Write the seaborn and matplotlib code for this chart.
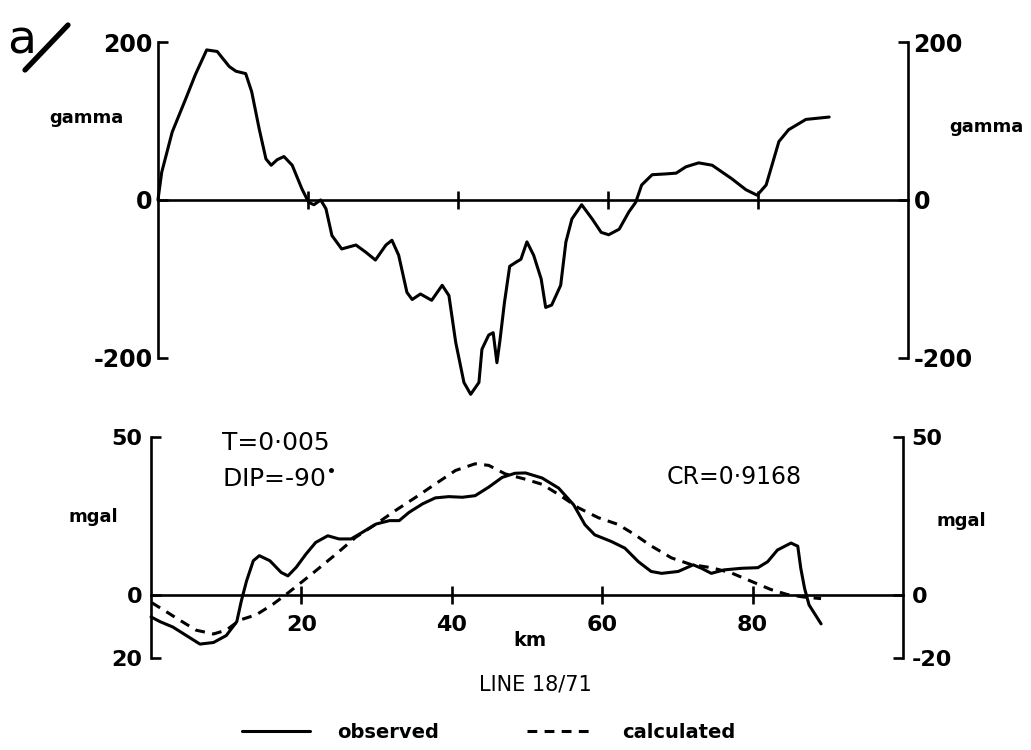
import matplotlib
matplotlib.use("Agg")
import matplotlib.pyplot as plt
import pandas as pd
import seaborn as sns
from matplotlib.lines import Line2D

# ---------------- data ----------------
mag_km = [0.0, 0.5, 1.9, 3.7, 5.0, 6.5, 7.9, 9.5, 10.4, 11.7, 12.5, 13.5, 14.4, 15.1,
          15.9, 16.8, 17.9, 19.2, 20.1, 20.8, 21.7, 22.4, 23.2, 24.5, 26.4, 27.7, 29.0,
          30.4, 31.2, 32.1, 33.2, 33.9, 35.0, 36.5, 37.9, 38.8, 39.7, 40.8, 41.7, 42.8,
          43.2, 44.1, 44.7, 45.2, 45.6, 46.2, 46.9, 47.7, 48.4, 49.2, 50.1, 51.1, 51.7,
          52.5, 53.7, 54.4, 55.2, 56.5, 57.9, 59.1, 60.1, 61.5, 62.8, 63.7, 64.5, 65.9,
          67.7, 69.1, 70.4, 72.1, 73.9, 76.5, 78.4, 79.9, 81.1, 82.8, 84.1, 86.4, 89.5]
mag_gamma = [0, 35, 86, 128, 159, 190, 188, 169, 163, 160, 137, 90, 52, 44,
             51, 55, 44, 14, -3, -6, 0, -11, -45, -62, -57, -66, -76,
             -57, -51, -70, -117, -126, -119, -127, -108, -121, -180, -231, -246, -231,
             -189, -171, -168, -206, -178, -130, -84, -79, -75, -53, -70, -100, -136,
             -133, -108, -53, -24, -6, -24, -41, -44, -37, -15, -3, 19, 32,
             33, 34, 42, 47, 44, 27, 13, 6, 19, 74, 89, 102, 105]

obs_km = [0.0, 1.2, 2.9, 4.7, 6.5, 8.3, 10.0, 11.4, 12.0, 12.7, 13.6, 14.4, 15.8, 17.3,
          18.2, 19.3, 20.6, 21.9, 23.5, 25.0, 26.6, 28.1, 29.9, 31.7, 33.0, 34.3, 36.1,
          37.8, 39.6, 41.4, 43.1, 44.9, 46.7, 48.4, 49.8, 52.0, 54.2, 56.2, 57.7, 59.0,
          61.2, 63.0, 64.8, 66.5, 67.9, 70.1, 72.1, 73.2, 74.5, 76.2, 78.5, 80.7, 82.0,
          83.3, 85.1, 86.0, 86.4, 86.9, 87.5, 89.1]
obs_mgal = [-7.0, -8.5, -10.2, -12.9, -15.6, -15.1, -12.9, -8.5, -2.0, 4.4, 10.8, 12.4,
            10.8, 7.1, 6.0, 8.7, 12.9, 16.6, 18.7, 17.7, 17.7, 19.8, 22.4, 23.5, 23.5,
            26.1, 28.8, 30.7, 31.1, 30.9, 31.4, 34.1, 37.2, 38.5, 38.6, 37.0, 33.8, 28.5,
            22.2, 19.0, 16.9, 14.8, 10.5, 7.4, 6.8, 7.4, 9.5, 8.4, 6.8, 7.9, 8.4, 8.6,
            10.5, 14.2, 16.4, 15.4, 8.4, 2.1, -3.2, -9.2]

calc_km = [0.1, 1.6, 3.8, 6.0, 8.3, 10.0, 11.8, 14.0, 16.2, 18.0, 19.7, 21.9, 24.6, 27.2,
           29.9, 32.5, 35.2, 37.8, 40.5, 43.1, 44.9, 47.1, 49.8, 52.0, 54.2, 56.8, 59.5,
           62.1, 64.3, 66.5, 69.2, 71.8, 74.5, 77.1, 79.8, 82.4, 84.6, 86.8, 89.1]
calc_mgal = [-2.5, -4.7, -8.0, -11.2, -12.4, -11.2, -8.0, -6.3, -3.0, 0.2, 3.4, 7.6, 12.9,
             18.2, 22.4, 26.7, 30.9, 35.1, 39.4, 41.5, 41.0, 38.3, 36.6, 35.0, 31.8, 27.6,
             24.4, 22.3, 19.1, 15.5, 11.7, 9.6, 8.6, 7.0, 4.3, 1.7, 0.1, -0.7, -1.2]

x_ticks = [20, 40, 60, 80]
x_ticklabels = ["20", "40", "60", "80"]
mag_yticks = [-200, 0, 200]
mag_ylabels_left = ["-200", "0", "200"]
mag_ylabels_right = ["-200", "0", "200"]
grav_yticks = [-20, 0, 50]
grav_ylabels_left = ["20", "0", "50"]
grav_ylabels_right = ["-20", "0", "50"]

# ---------------- style ----------------
sns.set_theme(style="white")
plt.rcParams["font.family"] = ["DejaVu Sans"]
plt.rcParams["text.color"] = "black"
plt.rcParams["axes.labelcolor"] = "black"
plt.rcParams["axes.edgecolor"] = "black"

fig = plt.figure(figsize=(10.31, 7.5), dpi=100)
ax1 = fig.add_axes([0.1532, 0.5227, 0.7274, 0.4213])
ax2 = fig.add_axes([0.1465, 0.1227, 0.7294, 0.2947])

LW_AX = 1.9
LW_CURVE = 2.2


def style_axes(ax, ylim, yticks, ylab_l, ylab_r, show_xlabels, lab_size, ypad):
    ax.set_facecolor("white")
    ax.set_xlim(0, 100)
    ax.set_ylim(*ylim)
    ax.spines["top"].set_visible(False)
    ax.spines["right"].set_visible(False)
    ax.spines["bottom"].set_position(("data", 0))
    for s in ("left", "bottom"):
        ax.spines[s].set_linewidth(LW_AX)
        ax.spines[s].set_color("black")
    ax.set_xticks(x_ticks)
    if show_xlabels:
        ax.set_xticklabels(x_ticklabels, fontsize=16, fontweight="bold")
    ax.tick_params(axis="x", direction="inout", length=13, width=LW_AX, color="black",
                   bottom=True, labelbottom=show_xlabels, pad=8, labelcolor="black")
    ax.set_yticks(yticks)
    ax.set_yticklabels(ylab_l, fontsize=lab_size, fontweight="bold")
    ax.tick_params(axis="y", direction="in", length=7, width=LW_AX, color="black",
                   left=True, pad=ypad, labelcolor="black")
    sec = ax.secondary_yaxis("right")
    sec.set_yticks(yticks)
    sec.set_yticklabels(ylab_r, fontsize=lab_size, fontweight="bold")
    sec.tick_params(axis="y", direction="in", length=7, width=LW_AX, color="black",
                    right=True, pad=ypad, labelcolor="black")
    sec.spines["right"].set_linewidth(LW_AX)
    sec.spines["right"].set_color("black")
    return sec


# ---------------- top panel: magnetics ----------------
df_mag = pd.DataFrame({"km": mag_km, "gamma": mag_gamma})
sns.lineplot(data=df_mag, x="km", y="gamma", ax=ax1, color="black", lw=LW_CURVE,
             estimator=None, sort=False, solid_joinstyle="round", clip_on=False)
sec1 = style_axes(ax1, (-200, 200), mag_yticks, mag_ylabels_left, mag_ylabels_right,
                  False, 17, 4)
ax1.set_xlabel("")
ax1.set_ylabel("gamma", rotation=0, fontsize=13, fontweight="bold", va="center",
               ha="center", color="black")
ax1.yaxis.set_label_coords(-0.096, 0.76)
sec1.set_ylabel("gamma", rotation=0, fontsize=13, fontweight="bold", va="center",
                ha="center", color="black")
sec1.yaxis.set_label_coords(1.105, 0.73, transform=ax1.transAxes)

# ---------------- bottom panel: gravity ----------------
df_obs = pd.DataFrame({"km": obs_km, "mgal": obs_mgal})
df_calc = pd.DataFrame({"km": calc_km, "mgal": calc_mgal})
sns.lineplot(data=df_obs, x="km", y="mgal", ax=ax2, color="black", lw=LW_CURVE,
             estimator=None, sort=False, solid_joinstyle="round", clip_on=False)
sns.lineplot(data=df_calc, x="km", y="mgal", ax=ax2, color="black", lw=LW_CURVE,
             estimator=None, sort=False, linestyle=(0, (3.2, 2.4)), clip_on=False)
sec2 = style_axes(ax2, (-20, 50), grav_yticks, grav_ylabels_left, grav_ylabels_right,
                  True, 16, 6)
ax2.set_xlabel("km", fontsize=14, fontweight="bold", va="center", color="black")
ax2.xaxis.set_label_coords(0.504, 0.081)
ax2.set_ylabel("mgal", rotation=0, fontsize=13, fontweight="bold", va="center",
               ha="center", color="black")
ax2.yaxis.set_label_coords(-0.077, 0.64)
sec2.set_ylabel("mgal", rotation=0, fontsize=13, fontweight="bold", va="center",
                ha="center", color="black")
sec2.yaxis.set_label_coords(1.078, 0.62, transform=ax2.transAxes)

ax2.text(0.094, 0.973, "T=0·005", transform=ax2.transAxes, fontsize=18,
         ha="left", va="center")
ax2.text(0.094, 0.805, r"DIP=-90$^{\bullet}$", transform=ax2.transAxes, fontsize=18,
         ha="left", va="center")
ax2.text(0.686, 0.819, "CR=0·9168", transform=ax2.transAxes, fontsize=17,
         ha="left", va="center")

fig.text(0.519, 0.0867, "LINE 18/71", fontsize=15, ha="center", va="center")

# legend
handles = [ax2.lines[0], ax2.lines[1]]
fig.legend(handles, ["observed", "calculated"], loc="center",
           bbox_to_anchor=(0.474, 0.023), ncol=2, frameon=False,
           handlelength=3.5, handletextpad=1.4, columnspacing=4.5,
           prop={"weight": "bold", "size": 14})

# panel letter
fig.text(0.007, 0.975, "a", fontsize=34, ha="left", va="top")
fig.add_artist(Line2D([25 / 1031, 68 / 1031], [1 - 70 / 750, 1 - 25 / 750],
                      transform=fig.transFigure, color="black", lw=3.8,
                      solid_capstyle="round"))

fig.savefig("out.png", dpi=100, facecolor="white")
